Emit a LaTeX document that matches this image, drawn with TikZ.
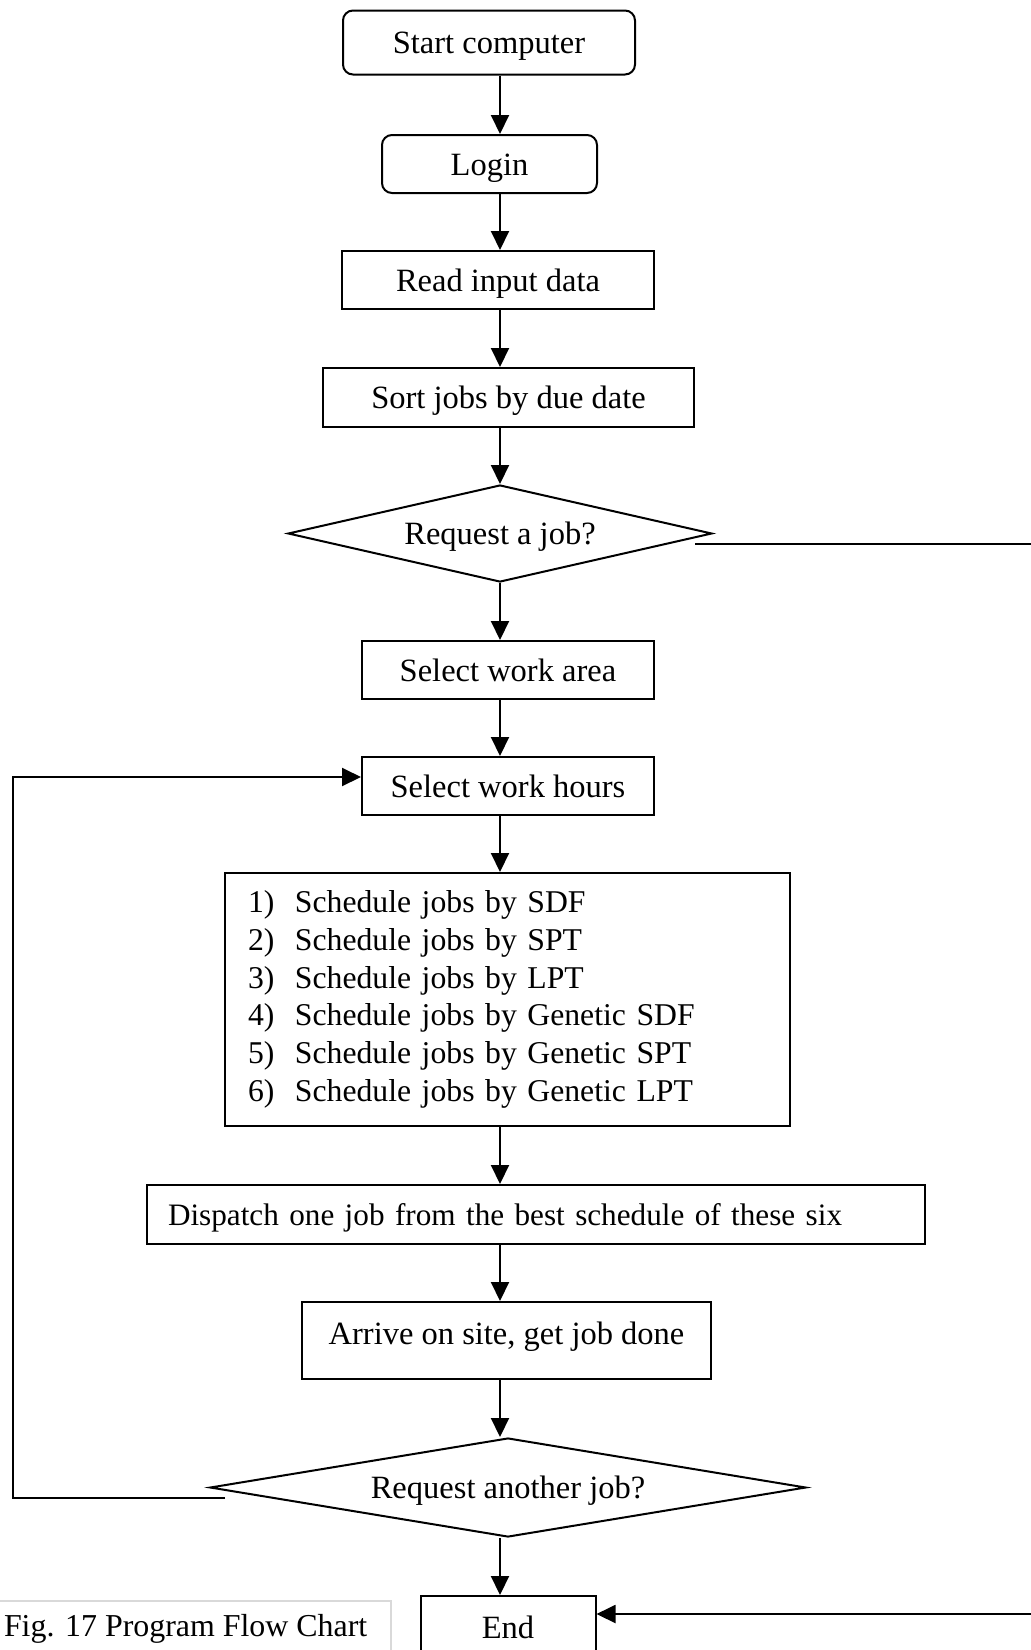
\documentclass[tikz,border=0pt]{standalone}
\usepackage{fontspec}
\setmainfont{Liberation Serif}
\usetikzlibrary{arrows.meta,shapes.geometric}

\newcommand{\schedline}[2]{\makebox[23.5pt][l]{#1)}Schedule jobs by #2}

\begin{document}
\begin{tikzpicture}[x=0.5pt,y=-0.5pt,>={Triangle[length=9.5pt,width=9pt]},
            line width=1pt,font=\fontsize{16.25}{18.85}\selectfont,
            frame/.style={draw,inner sep=0pt},
            flow box/.style={frame,text height=14.7pt,text depth=3.5pt},
            round box/.style={flow box,rounded corners=5pt},
            decision/.style={diamond,draw,aspect=5,inner sep=0pt,text height=14.7pt,text depth=3.5pt}]
            \useasboundingbox (0,0) rectangle (1031,1650);
            \coordinate (axis) at (500,0);
            \node[round box, minimum width=146pt, minimum height=32pt] (start) at (489,42.5) {Start computer};
            \node[round box, minimum width=107.5pt, minimum height=29pt] (login) at (489.5,164) {Login};
            \node[flow box, minimum width=156pt, minimum height=29pt] (read) at (498,280) {Read input data};
            \node[flow box, minimum width=185.5pt, minimum height=29.5pt] (sort) at (508.5,397.5) {Sort jobs by due date};
            \node[decision, minimum width=212pt, minimum height=48.5pt] (ask1) at (500,533.5) {Request a job?};
            \node[flow box, minimum width=146pt, minimum height=29pt] (area) at (508,670) {Select work area};
            \node[flow box, minimum width=146pt, minimum height=29pt] (hours) at (508,786) {Select work hours};
            \node[frame, inner xsep=11.5pt, text width=259.5pt, align=left, minimum height=126.5pt,
                  font=\fontsize{15.85}{18.85}\selectfont] (sched) at (507.5,999.5)
                {\schedline{1}{SDF}\\ \schedline{2}{SPT}\\ \schedline{3}{LPT}\\
                 \schedline{4}{Genetic SDF}\\ \schedline{5}{Genetic SPT}\\ \schedline{6}{Genetic LPT}};
            \node[flow box, inner xsep=10.5pt, text width=368pt, align=left, minimum height=29.5pt,
                  font=\fontsize{15.6}{18.85}\selectfont] (dispatch) at (536,1214.5)
                {Dispatch one job from the best schedule of these six};
            \node[flow box, text depth=11pt, minimum width=204.5pt, minimum height=38.5pt] (arrive) at (506.5,1340.5) {Arrive on site, get job done};
            \node[decision, minimum width=298pt, minimum height=49.5pt] (ask2) at (508,1487.5) {Request another job?};
            \node[flow box, minimum width=87.5pt, minimum height=31pt] (end) at (508,1627) {End};
            \node[anchor=west, inner sep=0pt, font=\fontsize{15.95}{18.85}\selectfont] (caption) at (3,1629) {Fig. 17 Program Flow Chart};
            \draw[gray!30, line width=0.6pt] (0,1601) -- (391,1601) -- (391,1660);
            \path[->]
            (start.south -| axis) edge (login.north -| axis)
            (login.south -| axis) edge (read.north -| axis)
            (read.south -| axis) edge (sort.north -| axis)
            (sort.south -| axis) edge (ask1.north -| axis)
            (ask1.south -| axis) edge (area.north -| axis)
            (area.south -| axis) edge (hours.north -| axis)
            (hours.south -| axis) edge (sched.north -| axis)
            (sched.south -| axis) edge (dispatch.north -| axis)
            (dispatch.south -| axis) edge (arrive.north -| axis)
            (arrive.south -| axis) edge (ask2.north -| axis)
            (ask2.south -| axis) edge (end.north -| axis)
            ;
            % no more jobs: out to the right edge and back into End
            \draw[->] ([xshift=-9pt,yshift=-5pt]ask1.east) -- ++(360,0) |- ([yshift=6.5pt]end.east);
            % another job: back to the work hours
            \draw[->] ([xshift=8pt,yshift=-5pt]ask2.west) -- ++(-212,0) |- ([yshift=4.5pt]hours.west);
        \end{tikzpicture}
\end{document}
